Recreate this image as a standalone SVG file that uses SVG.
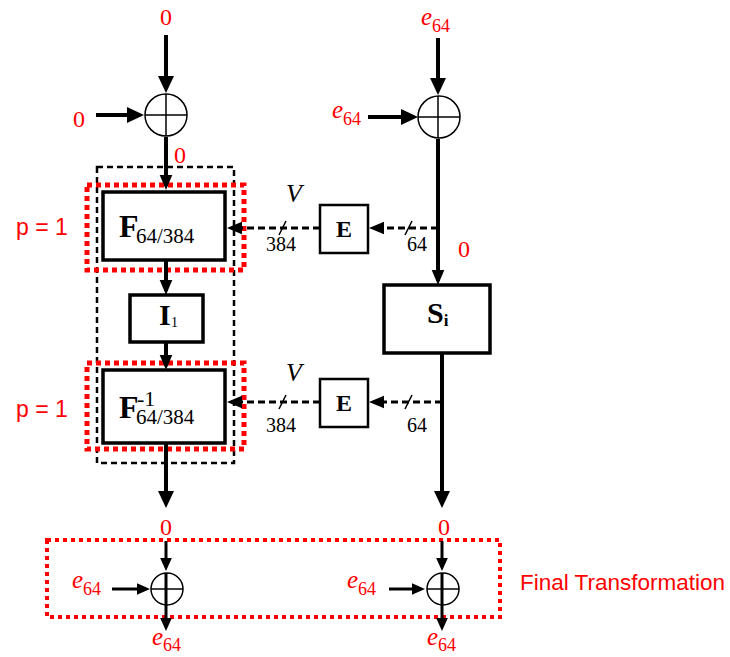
<svg xmlns="http://www.w3.org/2000/svg" width="730" height="657" viewBox="0 0 730 657">
<style>
.red{fill:#ff0000;font-family:"Liberation Serif",serif}
.sans{fill:#ff0000;font-family:"Liberation Sans",Arial,sans-serif}
.blk{fill:#000;font-family:"Liberation Serif",serif}
.box{fill:#fff;stroke:#000;stroke-width:3.5}
.sbox{fill:#fff;stroke:#000;stroke-width:2.5}
.thick{stroke:#000;stroke-width:4;fill:none}
.mid{stroke:#000;stroke-width:3;fill:none}
.dash{stroke:#000;stroke-width:3;fill:none;stroke-dasharray:7 4}
.thin{stroke:#000;stroke-width:1.5;fill:none}
.sum{fill:#fff;stroke:#000;stroke-width:1.5}
.frame{fill:none;stroke:#000;stroke-width:2.5;stroke-dasharray:6 4}
.redframe{fill:none;stroke:#ff0000;stroke-width:5;stroke-dasharray:5 4}
.redframe2{fill:none;stroke:#ff0000;stroke-width:4;stroke-dasharray:4 4}
</style>
<defs>
<marker id="big" viewBox="0 0 10 10" refX="7.65" refY="5" markerWidth="17" markerHeight="17" markerUnits="userSpaceOnUse" orient="auto"><path d="M0,0.3 L10,5 L0,9.7 z" fill="#000"/></marker>
<marker id="med" viewBox="0 0 10 10" refX="7.33" refY="5" markerWidth="15" markerHeight="15" markerUnits="userSpaceOnUse" orient="auto"><path d="M0,0.8 L10,5 L0,9.2 z" fill="#000"/></marker>
<marker id="sml" viewBox="0 0 10 10" refX="6.9" refY="5" markerWidth="13" markerHeight="13" markerUnits="userSpaceOnUse" orient="auto"><path d="M0,0.5 L10,5 L0,9.5 z" fill="#000"/></marker>
</defs>

<!-- frames -->
<g id="frames">
<rect class="frame" x="97" y="167" width="137" height="296"/>
<rect class="redframe" x="87" y="185" width="157" height="85"/>
<rect class="redframe" x="87" y="363" width="157" height="86"/>
<rect class="redframe2" x="47" y="540" width="453" height="77"/>
</g>

<!-- connectors -->
<g id="connectors">
<line class="thick" x1="166" y1="35" x2="166" y2="89" marker-end="url(#big)"/>
<line class="thick" x1="96" y1="115" x2="140" y2="115" marker-end="url(#big)"/>
<line class="thick" x1="166" y1="137" x2="166" y2="186" marker-end="url(#med)"/>
<line class="thick" x1="166" y1="261" x2="166" y2="291" marker-end="url(#med)"/>
<line class="thick" x1="166" y1="342" x2="166" y2="366" marker-end="url(#med)"/>
<line class="thick" x1="166" y1="443" x2="166" y2="504" marker-end="url(#big)"/>
<line class="mid" x1="166" y1="541" x2="166" y2="567" marker-end="url(#sml)"/>
<line class="mid" x1="112" y1="589" x2="146" y2="589" marker-end="url(#sml)"/>
<line class="mid" x1="166" y1="605" x2="166" y2="627" marker-end="url(#sml)"/>

<line class="thick" x1="438" y1="38" x2="438" y2="91" marker-end="url(#big)"/>
<line class="thick" x1="368" y1="117" x2="414" y2="117" marker-end="url(#big)"/>
<line class="thick" x1="438" y1="139" x2="438" y2="281" marker-end="url(#med)"/>
<line class="thick" x1="442" y1="353" x2="442" y2="504" marker-end="url(#big)"/>
<line class="mid" x1="442" y1="541" x2="442" y2="567" marker-end="url(#sml)"/>
<line class="mid" x1="389" y1="589" x2="421" y2="589" marker-end="url(#sml)"/>
<line class="mid" x1="442" y1="605" x2="442" y2="627" marker-end="url(#sml)"/>

<line class="dash" x1="438" y1="228" x2="373" y2="228" marker-end="url(#med)"/>
<line class="dash" x1="320" y1="228" x2="231" y2="228" marker-end="url(#med)"/>
<line class="dash" x1="442" y1="402" x2="373" y2="402" marker-end="url(#med)"/>
<line class="dash" x1="320" y1="402" x2="231" y2="402" marker-end="url(#med)"/>

<line class="thin" x1="279" y1="235" x2="286" y2="221" stroke-width="2"/>
<line class="thin" x1="405" y1="235" x2="412" y2="221" stroke-width="2"/>
<line class="thin" x1="279" y1="409" x2="286" y2="395" stroke-width="2"/>
<line class="thin" x1="405" y1="409" x2="412" y2="395" stroke-width="2"/>
</g>

<!-- summation nodes -->
<g id="sum-top-left">
<circle class="sum" cx="166" cy="115" r="21"/>
<line class="thin" x1="145" y1="115" x2="187" y2="115"/>
<line class="thin" x1="166" y1="94" x2="166" y2="136"/>
</g>
<g id="sum-top-right">
<circle class="sum" cx="439" cy="117" r="21"/>
<line class="thin" x1="418" y1="117" x2="460" y2="117"/>
<line class="thin" x1="438" y1="96" x2="438" y2="138"/>
</g>
<g id="sum-bottom-left">
<circle class="sum" cx="167" cy="589" r="16"/>
<line class="thin" x1="151" y1="589" x2="183" y2="589"/>
<line class="mid" x1="166" y1="573" x2="166" y2="605"/>
</g>
<g id="sum-bottom-right">
<circle class="sum" cx="443" cy="589" r="16"/>
<line class="thin" x1="427" y1="589" x2="459" y2="589"/>
<line class="mid" x1="442" y1="573" x2="442" y2="605"/>
</g>

<!-- boxes -->
<g id="F">
<rect class="box" x="103" y="192" width="122" height="68"/>
<text class="blk" x="119" y="237" font-size="32" font-weight="bold">F</text>
<text class="blk" x="136" y="243" font-size="21">64/384</text>
</g>
<g id="I">
<rect class="box" x="130" y="295" width="73" height="47"/>
<text class="blk" x="159" y="325" font-size="30" font-weight="bold">I</text>
<text class="blk" x="171" y="327" font-size="14">1</text>
</g>
<g id="Finv">
<rect class="box" x="103" y="370" width="122" height="73"/>
<text class="blk" x="119" y="418" font-size="32" font-weight="bold">F</text>
<text class="blk" x="137" y="406" font-size="22">-1</text>
<text class="blk" x="136" y="424" font-size="21">64/384</text>
</g>
<g id="E1">
<rect class="sbox" x="320" y="205" width="48" height="48"/>
<text class="blk" x="344" y="237" font-size="24" font-weight="bold" text-anchor="middle">E</text>
</g>
<g id="E2">
<rect class="sbox" x="320" y="379" width="48" height="48"/>
<text class="blk" x="344" y="411" font-size="24" font-weight="bold" text-anchor="middle">E</text>
</g>
<g id="S">
<rect class="box" x="384" y="285" width="106" height="68"/>
<text class="blk" x="427" y="323" font-size="30" font-weight="bold">S<tspan font-size="17" dy="3">i</tspan></text>
</g>

<!-- labels -->
<g id="labels">
<text class="red" x="166" y="25" font-size="24" text-anchor="middle">0</text>
<text class="red" x="79" y="127" font-size="24" text-anchor="middle">0</text>
<text class="red" x="180" y="163" font-size="24" text-anchor="middle">0</text>
<text class="red" x="464" y="257" font-size="24" text-anchor="middle">0</text>
<text class="red" x="166" y="535" font-size="24" text-anchor="middle">0</text>
<text class="red" x="444" y="535" font-size="24" text-anchor="middle">0</text>

<text class="red" x="421" y="25" font-size="25" font-style="italic">e<tspan font-style="normal" font-size="18" dy="7">64</tspan></text>
<text class="red" x="332" y="118" font-size="25" font-style="italic">e<tspan font-style="normal" font-size="18" dy="7">64</tspan></text>
<text class="red" x="72" y="588" font-size="25" font-style="italic">e<tspan font-style="normal" font-size="18" dy="7">64</tspan></text>
<text class="red" x="152" y="645" font-size="25" font-style="italic">e<tspan font-style="normal" font-size="18" dy="6">64</tspan></text>
<text class="red" x="347" y="588" font-size="25" font-style="italic">e<tspan font-style="normal" font-size="18" dy="7">64</tspan></text>
<text class="red" x="427" y="645" font-size="25" font-style="italic">e<tspan font-style="normal" font-size="18" dy="6">64</tspan></text>

<text class="sans" x="16" y="235" font-size="23">p = 1</text>
<text class="sans" x="16" y="417" font-size="23">p = 1</text>
<text class="sans" x="520" y="590" font-size="22.5">Final Transformation</text>

<text class="blk" x="294" y="202" font-size="26" font-style="italic" text-anchor="middle">V</text>
<text class="blk" x="294" y="381" font-size="26" font-style="italic" text-anchor="middle">V</text>
<text class="blk" x="281" y="251" font-size="20" text-anchor="middle">384</text>
<text class="blk" x="281" y="432" font-size="20" text-anchor="middle">384</text>
<text class="blk" x="417" y="251" font-size="20" text-anchor="middle">64</text>
<text class="blk" x="417" y="432" font-size="20" text-anchor="middle">64</text>
</g>
</svg>
